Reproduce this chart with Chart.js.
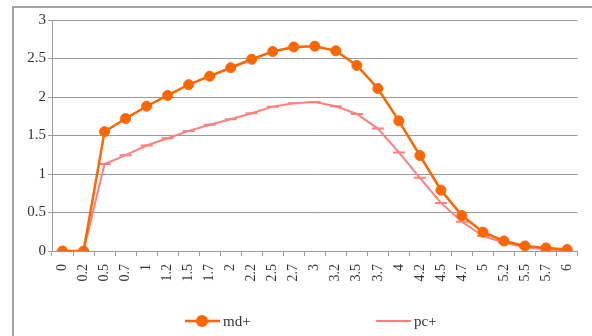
<!DOCTYPE html>
<html>
<head>
<meta charset="utf-8">
<style>
  html, body { margin: 0; padding: 0; background: #ffffff; }
  #wrap { width: 592px; height: 336px; position: relative; }
</style>
<script src="https://cdn.jsdelivr.net/npm/chart.js@4/dist/chart.umd.min.js"></script>
</head>
<body>
<div id="wrap"><canvas id="c" width="592" height="336"></canvas></div>
<script>
const categories = ['0', '0.2', '0.5', '0.7', '1', '1.2', '1.5', '1.7', '2', '2.2', '2.5', '2.7', '3',
  '3.2', '3.5', '3.7', '4', '4.2', '4.5', '4.7', '5', '5.2', '5.5', '5.7', '6'];

const mdPlus = [0, 0, 1.55, 1.72, 1.88, 2.02, 2.16, 2.27, 2.38, 2.49, 2.59, 2.65, 2.66,
  2.60, 2.41, 2.11, 1.69, 1.24, 0.79, 0.46, 0.245, 0.13, 0.065, 0.04, 0.02];

const pcPlus = [0, 0, 1.13, 1.245, 1.37, 1.465, 1.56, 1.64, 1.71, 1.79, 1.875, 1.92, 1.935,
  1.88, 1.78, 1.59, 1.28, 0.95, 0.625, 0.38, 0.195, 0.11, 0.05, 0.02, 0.01];

const yTicks = [0, 0.5, 1, 1.5, 2, 2.5, 3];

const MD_COLOR = '#ff6600';
const PC_COLOR = '#ff7f7f';
const GRID = '#9a9a9a';
const FONT = '"Liberation Serif", "DejaVu Serif", serif';

// Outer frame: a grey rule along the top and left edges
const framePlugin = {
  id: 'frame',
  beforeDraw(chart) {
    const ctx = chart.ctx;
    ctx.save();
    ctx.strokeStyle = '#a3a3a3';
    ctx.lineWidth = 2;
    ctx.beginPath();
    ctx.moveTo(13, chart.height + 2);
    ctx.lineTo(13, 7);
    ctx.lineTo(chart.width + 2, 7);
    ctx.stroke();
    ctx.restore();
  }
};

// Bottom legend: a line sample with its marker, then the series name
const legendPlugin = {
  id: 'seriesLegend',
  afterDraw(chart) {
    const ctx = chart.ctx;
    const y = 321;
    const items = [
      { x: 185, ds: chart.data.datasets[0] },
      { x: 376, ds: chart.data.datasets[1] }
    ];
    ctx.save();
    items.forEach(({ x, ds }) => {
      ctx.strokeStyle = ds.borderColor;
      ctx.lineWidth = ds.borderWidth;
      ctx.beginPath();
      ctx.moveTo(x, y);
      ctx.lineTo(x + 35, y);
      ctx.stroke();
      if (ds.pointStyle === 'circle') {
        ctx.fillStyle = ds.pointBackgroundColor;
        ctx.beginPath();
        ctx.arc(x + 17, y, 6, 0, Math.PI * 2);
        ctx.fill();
      }
      ctx.fillStyle = '#333333';
      ctx.font = '15px ' + FONT;
      ctx.textBaseline = 'middle';
      ctx.textAlign = 'left';
      ctx.fillText(ds.label, x + 38, y + 1);
    });
    ctx.restore();
  }
};

new Chart(document.getElementById('c'), {
  type: 'line',
  data: {
    labels: categories,
    datasets: [
      {
        label: 'md+',
        data: mdPlus,
        borderColor: MD_COLOR,
        backgroundColor: MD_COLOR,
        pointBackgroundColor: MD_COLOR,
        pointBorderColor: MD_COLOR,
        borderWidth: 2.5,
        pointStyle: 'circle',
        pointRadius: 5,
        pointBorderWidth: 1,
        tension: 0,
        order: 0
      },
      {
        label: 'pc+',
        data: pcPlus,
        borderColor: PC_COLOR,
        backgroundColor: PC_COLOR,
        pointBackgroundColor: PC_COLOR,
        pointBorderColor: PC_COLOR,
        borderWidth: 2,
        pointStyle: 'line',
        pointRadius: 6,
        pointBorderWidth: 2,
        tension: 0,
        order: 1
      }
    ]
  },
  options: {
    responsive: false,
    animation: false,
    devicePixelRatio: 1,
    layout: { padding: { left: 14, right: 8, top: 20, bottom: 33 } },
    plugins: {
      legend: { display: false },
      tooltip: { enabled: false }
    },
    scales: {
      x: {
        offset: true,
        grid: {
          offset: true,
          drawOnChartArea: false,
          drawTicks: true,
          tickLength: 5,
          color: GRID
        },
        border: { color: GRID, width: 1 },
        ticks: {
          autoSkip: false,
          maxRotation: 90,
          minRotation: 90,
          padding: 8,
          color: '#333333',
          font: { family: FONT, size: 14 }
        },
        afterFit(scale) { scale.height = 52; }
      },
      y: {
        min: 0,
        max: 3,
        afterBuildTicks(scale) { scale.ticks = yTicks.map(v => ({ value: v })); },
        grid: {
          color: GRID,
          tickLength: 4,
          drawTicks: true
        },
        border: { color: GRID, width: 1 },
        ticks: {
          padding: 2,
          color: '#333333',
          font: { family: FONT, size: 15 },
          callback: v => String(v)
        },
        afterFit(scale) { scale.width = 38; }
      }
    }
  },
  plugins: [framePlugin, legendPlugin]
});
</script>
</body>
</html>
